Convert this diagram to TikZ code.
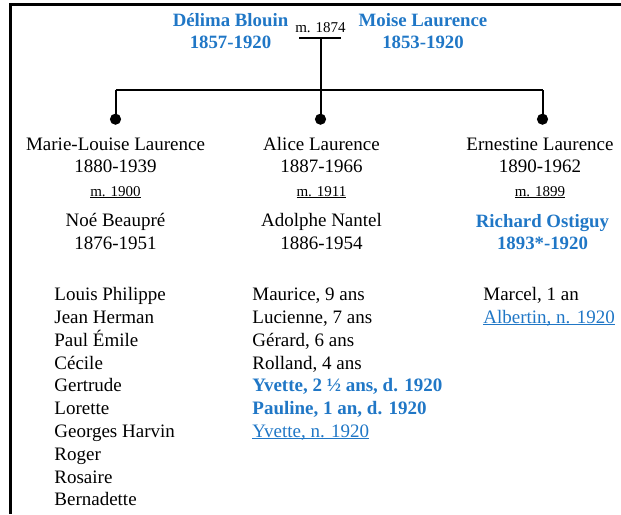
\documentclass[tikz,border=0pt]{standalone}
\usepackage{fontspec}
\setmainfont{Liberation Serif}
\usepackage{xcolor}
\usepackage{tikz}
\usetikzlibrary{calc}
\definecolor{ink}{HTML}{000000}
\definecolor{famblue}{HTML}{2077C6}
\newsavebox{\ulbox}
\newcommand{\ulin}[1]{\sbox{\ulbox}{#1}\rlap{\rule[-0.9pt]{\wd\ulbox}{0.45pt}}\usebox{\ulbox}}
\tikzset{
  base/.style={draw=ink, line width=1pt, line cap=butt},
  frame/.style={draw=ink, line width=1.5pt, line join=miter},
  dot/.style={circle, fill=ink, inner sep=0pt, minimum size=5.6pt},
  lab/.style={text=ink, inner sep=0pt, font=\fontsize{9.5}{11.3}\selectfont, align=center, anchor=base},
  labb/.style={lab, text=famblue, font=\fontsize{9.4}{11.0}\selectfont\bfseries},
  marr/.style={text=ink, inner sep=0pt, font=\fontsize{7.5}{9}\selectfont, anchor=base},
  kids/.style={text=ink, inner sep=0pt, font=\fontsize{9.5}{11.4}\selectfont, align=left, anchor=base west},
}
\begin{document}
\begin{tikzpicture}[x=0.5pt,y=-0.5pt]
  \useasboundingbox (0,0) rectangle (621,514);
  % frame
  \draw[frame] (621,4.3) -- (10.3,4.3) -- (10.3,514);
  % parents (anchor = base of last line)
  \node[labb] (delima) at (230.5,48.7) {Délima Blouin\\1857-1920};
  \node[labb] (moise) at (423,48.7) {Moise Laurence\\1853-1920};
  \node[marr] (m1874) at (320.5,32.7) {m. 1874};
  \coordinate (barL) at (299,38.3);
  \coordinate (barR) at (341,38.3);
  \coordinate (barM) at (320.5,38.3);
  \draw[base] (barL) -- (barR);
  % children line
  \coordinate (hL) at (115.5,89.5);
  \coordinate (hR) at (542.5,89.5);
  \node[dot] (d1) at (115.5,119.2) {};
  \node[dot] (d2) at (320.5,119.2) {};
  \node[dot] (d3) at (542.5,119.2) {};
  \draw[base] (hL) -- (hR);
  \draw[base] (d1.center) -- (hL);
  \draw[base] (d3.center) -- (hR);
  \draw[base] (barM) -- (d2.center);
  % column 1
  \node[lab] (marie) at (115.5,172.7) {Marie-Louise Laurence\\1880-1939};
  \node[marr] (m1900) at (115.5,196) {\ulin{m. 1900}};
  \node[lab] (noe) at (115.5,249) {Noé Beaupré\\1876-1951};
  \node[kids] (kids1) at (54,505.9) {Louis Philippe\\Jean Herman\\Paul Émile\\Cécile\\Gertrude\\Lorette\\Georges Harvin\\Roger\\Rosaire\\Bernadette};
  % column 2
  \node[lab] (alice) at (321.5,172.7) {Alice Laurence\\1887-1966};
  \node[marr] (m1911) at (321.5,196) {\ulin{m. 1911}};
  \node[lab] (adolphe) at (321.5,249) {Adolphe Nantel\\1886-1954};
  \node[kids] (kids2) at (252,437.5) {Maurice, 9 ans\\Lucienne, 7 ans\\Gérard, 6 ans\\Rolland, 4 ans\\
    \textcolor{famblue}{\bfseries Yvette, 2 ½ ans, d. 1920}\\
    \textcolor{famblue}{\bfseries Pauline, 1 an, d. 1920}\\
    \textcolor{famblue}{\ulin{Yvette, n. 1920}}};
  % column 3
  \node[lab] (ernestine) at (540,172.7) {Ernestine Laurence\\1890-1962};
  \node[marr] (m1899) at (540,196) {\ulin{m. 1899}};
  \node[labb] (richard) at (542.5,249) {Richard Ostiguy\\1893*-1920};
  \node[kids] (kids3) at (483,323.5) {Marcel, 1 an\\\textcolor{famblue}{\ulin{Albertin, n. 1920}}};
\end{tikzpicture}
\end{document}
